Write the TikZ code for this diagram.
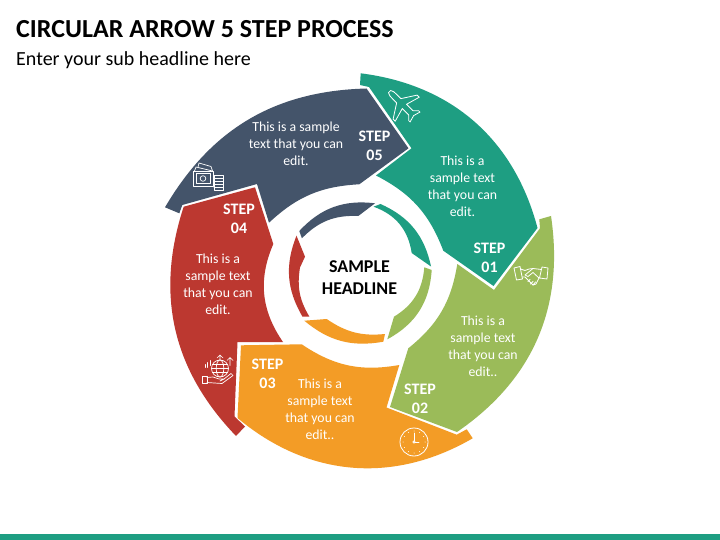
\documentclass[tikz,border=0pt]{standalone}
\usepackage{fontspec}
\setmainfont{Carlito}
\definecolor{cteal}{HTML}{1E9E82}
\definecolor{cnavy}{HTML}{44546A}
\definecolor{cred}{HTML}{BC3830}
\definecolor{cgreen}{HTML}{9BBB59}
\definecolor{corange}{HTML}{F39C26}
\tikzset{
 bodytext/.style={text=white,font=\fontsize{13.8}{17}\selectfont,align=center,inner sep=0pt},
 steptext/.style={text=white,font=\fontsize{16}{19}\selectfont\bfseries,align=center,inner sep=0pt},
 icon/.style={draw=white,line width=0.8pt,line join=round,line cap=round},
}
\begin{document}
\begin{tikzpicture}[x=1pt,y=-1pt]
\useasboundingbox (0,0) rectangle (720,540);
\fill[white] (0,0) rectangle (720,540);
\fill[cteal] (0,534) rectangle (720,540);
\node[anchor=west,inner sep=0pt,font=\fontsize{26}{28}\selectfont\bfseries] (title) at (16,29) {CIRCULAR ARROW 5 STEP PROCESS};
\node[anchor=west,inner sep=0pt,font=\fontsize{20}{24}\selectfont] (sub) at (16,60.5) {Enter your sub headline here};
% big arrows
\fill[cgreen] (551,216) to[bend left=32] (457,432) -- (390,407) -- (408.3,348.3) to[bend right=21] (457.3,264) -- (494,290) -- (540,228.3) -- (539.3,219.3) -- cycle;
\fill[corange] (241,345.3) -- (301.7,344.3) to[bend right=22] (399.3,365) -- (386.5,407.5) -- (456.7,434.7) -- (466.7,429.3) -- (472.7,438.3) to[bend left=35] (237.5,418) -- cycle;
\fill[cred] (283,342) -- (237.5,342) -- (234.5,416.5) -- (245,426.5) -- (236,436) to[bend left=31] (183.7,206.7) -- (255,187.3) -- (273.3,244) to[bend right=29] cycle;
\fill[cnavy] (165,207.3) to[bend left=29] (366.5,88.5) -- (408.5,148.3) -- (359.3,184.3) to[bend right=20] (269,222.7) -- (257,184) -- (182.3,205) -- (179.3,213.3) -- cycle;
\fill[cteal] (360.7,73.3) to[bend left=34] (537.5,228) -- (493.5,286) -- (443.3,250.7) to[bend right=21] (376,175.5) -- (411.5,148.3) -- (369,87) -- (360,85) -- cycle;
% inner arrows
\fill[cteal] (373.5,206.7) -- (380.5,204) to[bend left=27] (431,266.5) -- (411.7,253) to[bend right=31] cycle;
\fill[cgreen] (424.3,267.3) -- (431.7,270) to[bend left=29] (387.3,339.3) -- (394,316.7) to[bend right=27] cycle;
\fill[corange] (304.3,320.7) -- (326.7,319) to[bend right=20] (385,334) -- (383.3,341.7) to[bend left=25] cycle;
\fill[cred] (296.5,235.7) -- (305,256.7) -- (300,267.5) to[bend right=20] (309.3,316.5) -- (302.5,316.7) to[bend left=26] cycle;
\fill[cnavy] (299.3,231) to[bend left=27] (375,203.3) -- (358.3,216) to[bend right=24] (301.9,238.3) -- cycle;
% centre
\node[font=\fontsize{18}{22}\selectfont\bfseries,align=center,inner sep=0pt] (head) at (359.5,277.5) {SAMPLE\\HEADLINE};
% texts
\node[bodytext] (t5) at (296,143.7) {This is a sample\\text that you can\\edit.};
\node[steptext] (s5) at (374.5,146) {STEP\\05};
\node[bodytext] (t1) at (462.5,186.3) {This is a\\sample text\\that you can\\edit.};
\node[steptext] (s1) at (489.5,257.5) {STEP\\01};
\node[bodytext] (t2) at (483,346.3) {This is a\\sample text\\that you can\\edit..};
\node[steptext] (s2) at (420,398.5) {STEP\\02};
\node[bodytext] (t3) at (320,409) {This is a\\sample text\\that you can\\edit..};
\node[steptext] (s3) at (267.5,373.5) {STEP\\03};
\node[bodytext] (t4) at (218,284.3) {This is a\\sample text\\that you can\\edit.};
\node[steptext] (s4) at (239,218.5) {STEP\\04};
% plane
\begin{scope}[shift={(403,105)},rotate=45,icon]
 \draw (-1.5,-19) .. controls (-3,-17) and (-3,-15) .. (-3,-12) -- (-3,-6) -- (-17,3) -- (-17,6) -- (-3,2) -- (-3,11) -- (-7,15) -- (-7,17) -- (0,15) -- (7,17) -- (7,15) -- (3,11) -- (3,2) -- (17,6) -- (17,3) -- (3,-6) -- (3,-12) .. controls (3,-15) and (3,-17) .. (1.5,-19) -- cycle;
\end{scope}
% handshake
\begin{scope}[shift={(531,276)},icon]
 \draw (-17,-8) -- (-11,-9.5) -- (-8.5,3) -- (-14.5,4) -- cycle;
 \draw (17,-8) -- (11,-9) -- (8.5,2) -- (16,3) -- cycle;
 \draw (-10.5,-7) -- (-6,-5.5) -- (-2,-7) -- (2,-7.5) -- (10.5,-6.5);
 \draw (-8.5,1) -- (-6,1) -- (-1,6) -- (2,9) -- (5,8) -- (8,2);
 \draw (2,-7.5) -- (-6,-1) -- (-3,0.5) -- (2,-3.5) -- (8,2);
 \draw (-3,5.5) -- (-1,3.5) (-0.5,8) -- (2,5.5) (2,9) -- (4.5,6);
\end{scope}
% clock
\begin{scope}[shift={(414,442)},icon]
 \draw (0,0) circle (14);
 \draw (0,0) circle (1.2);
 \draw (0,-1.2) -- (0,-9) (1.2,0) -- (5,0);
 \foreach \a in {0,30,...,330}{\fill[white] (\a:11) circle (0.5);}
\end{scope}
% money
\begin{scope}[shift={(208,177)},icon,line width=0.7pt]
 \draw (-15,-6) rectangle (5,9);
 \draw (-12,-3.5) rectangle (2,6.5);
 \draw (-5,1.5) circle (2.8);
 \draw (-13.5,-6) -- (-12,-10) -- (4.5,-6);
 \draw (-10,-10) -- (-9,-14) -- (3,-10.5) -- (4.5,-6);
 \draw (6,-2) rectangle (15,13);
 \foreach \y in {1,4,7,10}{\draw (6,\y) -- (15,\y);}
\end{scope}
% globe in hand
\begin{scope}[shift={(220,368.5)},icon,line width=0.7pt]
 \draw (0,0) circle (8.5);
 \draw (0,0) ellipse (3.8 and 8.5);
 \draw (-8.5,0) -- (8.5,0) (-7.5,-4) -- (7.5,-4) (-7.5,4) -- (7.5,4);
 \draw (-15,-4) -- (-15,-1) (-12.5,-6) -- (-12.5,-1) (-10,-8) -- (-10,-3);
 \draw (0,-8.5) -- (0,-13.5) (-3,-10.5) -- (0,-13.5) -- (3,-10.5);
 \draw (10,-3) -- (10,-11) (7,-8) -- (10,-11) -- (13,-8);
 \draw (-18,8) rectangle (-13,15);
 \draw (-13,9) -- (-7,8.5) -- (-1,10.5) -- (4,10.5) -- (0,12.5);
 \draw (-13,14) -- (2,15) -- (13,7) -- (11,5) -- (4,10.5);
\end{scope}
\end{tikzpicture}
\end{document}
